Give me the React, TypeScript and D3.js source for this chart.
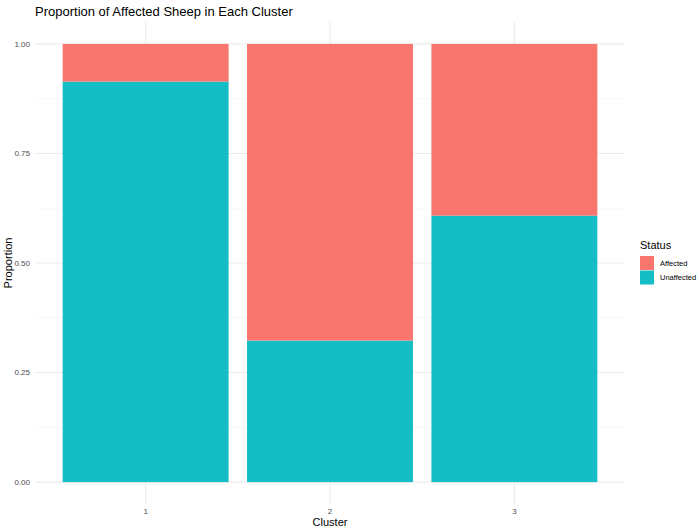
import React from "react";
import * as d3 from "d3";

// cluster categories and proportions
const clusters = ["1", "2", "3"];
const unaffected = [0.914, 0.323, 0.608];
const affected = [0.086, 0.677, 0.392];
const statusLabels = ["Affected", "Unaffected"];
const yTicks = [0, 0.25, 0.5, 0.75, 1];
const yMinor = [0.125, 0.375, 0.625, 0.875];

const colors: Record<string, string> = {
  Affected: "#F8766D",
  Unaffected: "#15BEC5",
};

const W = 699;
const H = 530;
const panel = { left: 35, right: 625, top: 22, bottom: 504 };

const App: React.FC = () => {
  // discrete x with ggplot's 0.6 unit expansion on each side
  const x = d3
    .scaleLinear()
    .domain([0.4, clusters.length + 0.6])
    .range([panel.left, panel.right]);
  const y = d3.scaleLinear().domain([-0.05, 1.05]).range([panel.bottom, panel.top]);
  const barW = x(1.45) - x(0.55);

  const rows = clusters.map((c, i) => ({ c, i, parts: { Unaffected: unaffected[i], Affected: affected[i] } }));
  const stack = d3.stack<any>().keys(["Unaffected", "Affected"]).value((d, k) => d.parts[k]);
  const series = stack(rows);

  const tickFont = { fontFamily: "Arial, 'Liberation Sans', sans-serif", fontSize: 8, fill: "#4d4d4d" };

  return (
    <svg width={W} height={H} style={{ position: "absolute", left: 0, top: 0, background: "#fff" }}>
      <g fontFamily="Arial, 'Liberation Sans', sans-serif">
        {/* minor gridlines */}
        {yMinor.map((t) => (
          <line key={"m" + t} x1={panel.left} x2={panel.right} y1={y(t)} y2={y(t)} stroke="#f2f2f2" strokeWidth={0.6} />
        ))}
        {/* major gridlines */}
        {yTicks.map((t) => (
          <line key={"g" + t} x1={panel.left} x2={panel.right} y1={y(t)} y2={y(t)} stroke="#ebebeb" strokeWidth={1.1} />
        ))}
        {clusters.map((c, i) => (
          <line key={"v" + c} x1={x(i + 1)} x2={x(i + 1)} y1={panel.top} y2={panel.bottom} stroke="#ebebeb" strokeWidth={1.1} />
        ))}

        {/* bars */}
        {series.map((s) =>
          s.map((d, i) => (
            <rect
              key={s.key + i}
              x={x(i + 1) - barW / 2}
              width={barW}
              y={y(d[1])}
              height={y(d[0]) - y(d[1])}
              fill={colors[s.key]}
            />
          ))
        )}

        {/* y tick labels */}
        {yTicks.map((t) => (
          <text key={"yl" + t} x={30} y={y(t)} dy="0.35em" textAnchor="end" {...tickFont}>
            {d3.format(".2f")(t)}
          </text>
        ))}
        {/* x tick labels */}
        {clusters.map((c, i) => (
          <text key={"xl" + c} x={x(i + 1)} y={514} textAnchor="middle" {...tickFont}>
            {c}
          </text>
        ))}

        {/* axis titles */}
        <text x={(panel.left + panel.right) / 2} y={526} textAnchor="middle" fontSize={11} fill="#000">
          Cluster
        </text>
        <text transform={`translate(12, ${(panel.top + panel.bottom) / 2}) rotate(-90)`} textAnchor="middle" fontSize={11} fill="#000">
          Proportion
        </text>

        {/* title */}
        <text x={35} y={16} fontSize={13} fill="#000">
          Proportion of Affected Sheep in Each Cluster
        </text>

        {/* legend */}
        <text x={640} y={249} fontSize={11} fill="#000">Status</text>
        {statusLabels.map((s, i) => (
          <g key={s} transform={`translate(640, ${256 + i * 14.5})`}>
            <rect width={14} height={14} fill={colors[s]} />
            <text x={20} y={7} dy="0.35em" fontSize={7.5} fill="#000">{s}</text>
          </g>
        ))}
      </g>
    </svg>
  );
};

export default App;
